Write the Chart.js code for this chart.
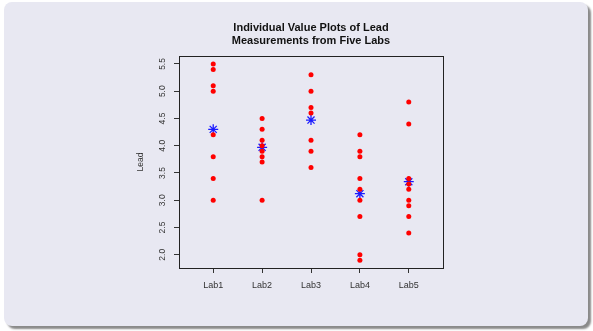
<!DOCTYPE html>
<html>
<head>
<meta charset="utf-8">
<script src="https://cdn.jsdelivr.net/npm/chart.js@4/dist/chart.umd.min.js"></script>
<style>
  html, body { margin: 0; padding: 0; background: #ffffff; }
  #wrap { position: relative; width: 593px; height: 331px; overflow: hidden; }
  #card {
    position: absolute; left: 4px; top: 2px; width: 584px; height: 324px;
    background: #e8e8f2; border-radius: 8px;
    box-shadow: 3px 3px 2px #8a8a8a;
  }
  #plot { position: absolute; left: 0; top: 0; }
</style>
</head>
<body>
<div id="wrap">
  <div id="card"></div>
  <canvas id="plot" width="593" height="331"></canvas>
</div>
<script>
  // values
  const labs = ["Lab1", "Lab2", "Lab3", "Lab4", "Lab5"];
  const lab1 = [5.5, 5.4, 5.1, 5.0, 4.2, 3.8, 3.4, 3.0];
  const lab2 = [4.5, 4.3, 4.1, 4.0, 3.9, 3.8, 3.7, 3.0];
  const lab3 = [5.3, 5.0, 4.7, 4.6, 4.1, 3.9, 3.6];
  const lab4 = [4.2, 3.9, 3.8, 3.4, 3.2, 3.0, 2.7, 2.0, 1.9];
  const lab5 = [4.8, 4.4, 3.4, 3.3, 3.2, 3.0, 2.9, 2.7, 2.4];
  const labMeans = [4.30, 3.97, 4.47, 3.12, 3.34];
  const yTicks = [2.0, 2.5, 3.0, 3.5, 4.0, 4.5, 5.0, 5.5];

  const FONT = "'Liberation Sans', Arial, Helvetica, sans-serif";

  const points = [];
  [lab1, lab2, lab3, lab4, lab5].forEach((vals, i) => {
    vals.forEach((v) => points.push({ x: i + 1, y: v }));
  });
  const meanPoints = labMeans.map((m, i) => ({ x: i + 1, y: m }));

  // box around the plot region + vertical y tick labels (R style)
  const framePlugin = {
    id: "frame",
    afterDraw(chart) {
      const { ctx, chartArea: a } = chart;
      ctx.save();
      ctx.strokeStyle = "#222";
      ctx.lineWidth = 1;
      ctx.strokeRect(Math.round(a.left) + 0.5, Math.round(a.top) + 0.5,
        Math.round(a.right - a.left), Math.round(a.bottom - a.top));

      const ys = chart.scales.y;
      ctx.fillStyle = "#333";
      ctx.font = "8.5px " + FONT;
      ctx.textAlign = "center";
      ctx.textBaseline = "middle";
      yTicks.forEach((t) => {
        const py = ys.getPixelForValue(t);
        ctx.save();
        ctx.translate(a.left - 16, py);
        ctx.rotate(-Math.PI / 2);
        ctx.fillText(t.toFixed(1), 0, 0);
        ctx.restore();
      });
      ctx.restore();
    },
  };

  new Chart(document.getElementById("plot"), {
    type: "scatter",
    data: {
      datasets: [
        {
          label: "values",
          data: points,
          backgroundColor: "#ff0000",
          borderColor: "#ff0000",
          pointRadius: 2.5,
          pointBorderWidth: 0,
        },
        {
          label: "mean",
          data: meanPoints,
          pointStyle: "star",
          borderColor: "#1a1aff",
          backgroundColor: "#1a1aff",
          pointRadius: 5,
          pointBorderWidth: 1.3,
        },
      ],
    },
    options: {
      responsive: false,
      animation: false,
      events: [],
      layout: { padding: { left: 130, right: 150, top: 0, bottom: 0 } },
      plugins: {
        legend: { display: false },
        tooltip: { enabled: false },
        title: {
          display: true,
          fullSize: false,
          text: ["Individual Value Plots of Lead", "Measurements from Five Labs"],
          color: "#111",
          font: { family: FONT, size: 11, weight: "bold", lineHeight: 1.2 },
          padding: { top: 21.4, bottom: 8.2 },
        },
      },
      scales: {
        x: {
          type: "linear",
          min: 0.3,
          max: 5.7,
          afterBuildTicks(scale) {
            scale.ticks = labs.map((_, i) => ({ value: i + 1 }));
          },
          afterFit(scale) { scale.height = 63; },
          grid: { drawOnChartArea: false, drawTicks: true, tickLength: 5, color: "#333" },
          border: { display: true, color: "#222" },
          ticks: {
            color: "#333",
            padding: 7,
            maxRotation: 0,
            font: { family: FONT, size: 9 },
            callback: (v) => labs[v - 1],
          },
        },
        y: {
          min: 1.757,
          max: 5.646,
          afterBuildTicks(scale) {
            scale.ticks = yTicks.map((v) => ({ value: v }));
          },
          afterFit(scale) { scale.width = 49; },
          grid: { drawOnChartArea: false, drawTicks: true, tickLength: 5, color: "#333" },
          border: { display: true, color: "#222" },
          ticks: { color: "transparent", font: { family: FONT, size: 8.5 } },
          title: {
            display: true,
            text: "Lead",
            color: "#333",
            font: { family: FONT, size: 8.5 },
            padding: { top: 6, bottom: 0 },
          },
        },
      },
    },
    plugins: [framePlugin],
  });
</script>
</body>
</html>
